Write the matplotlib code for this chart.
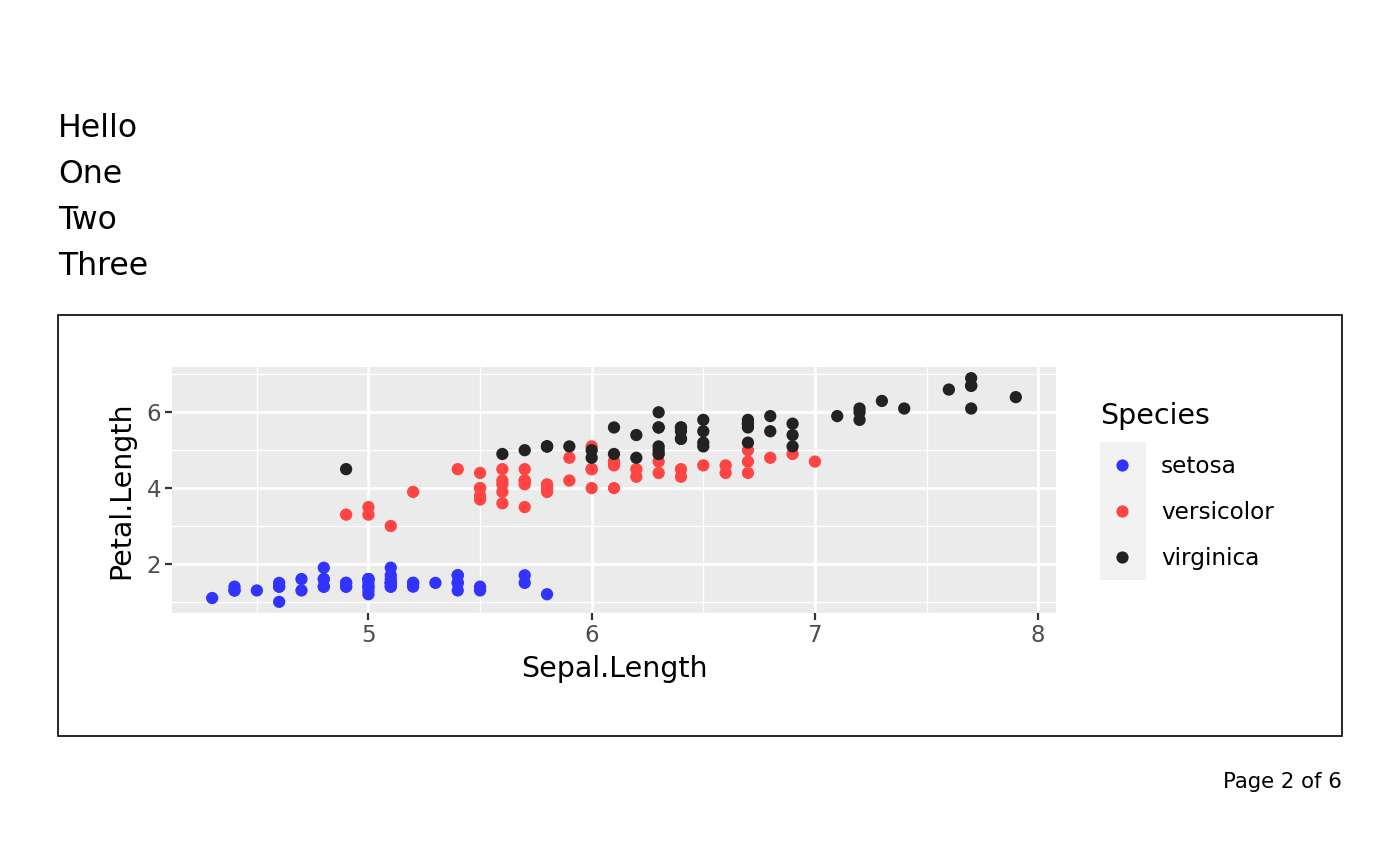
import matplotlib
matplotlib.use("Agg")
import matplotlib.pyplot as plt
from matplotlib.patches import Rectangle
from matplotlib.lines import Line2D
from matplotlib.ticker import MultipleLocator

species = ["setosa", "versicolor", "virginica"]
colors = {"setosa": "#3333FF", "versicolor": "#FF4444", "virginica": "#222222"}

setosa_sepal = [5.1,4.9,4.7,4.6,5.0,5.4,4.6,5.0,4.4,4.9,5.4,4.8,4.8,4.3,5.8,5.7,5.4,5.1,5.7,5.1,
                5.4,5.1,4.6,5.1,4.8,5.0,5.0,5.2,5.2,4.7,4.8,5.4,5.2,5.5,4.9,5.0,5.5,4.9,4.4,5.1,
                5.0,4.5,4.4,5.0,5.1,4.8,5.1,4.6,5.3,5.0]
setosa_petal = [1.4,1.4,1.3,1.5,1.4,1.7,1.4,1.5,1.4,1.5,1.5,1.6,1.4,1.1,1.2,1.5,1.3,1.4,1.7,1.5,
                1.7,1.5,1.0,1.7,1.9,1.6,1.6,1.5,1.4,1.6,1.6,1.5,1.5,1.4,1.5,1.2,1.3,1.4,1.3,1.5,
                1.3,1.3,1.3,1.6,1.9,1.4,1.6,1.4,1.5,1.4]
versicolor_sepal = [7.0,6.4,6.9,5.5,6.5,5.7,6.3,4.9,6.6,5.2,5.0,5.9,6.0,6.1,5.6,6.7,5.6,5.8,6.2,5.6,
                    5.9,6.1,6.3,6.1,6.4,6.6,6.8,6.7,6.0,5.7,5.5,5.5,5.8,6.0,5.4,6.0,6.7,6.3,5.6,5.5,
                    5.5,6.1,5.8,5.0,5.6,5.7,5.7,6.2,5.1,5.7]
versicolor_petal = [4.7,4.5,4.9,4.0,4.6,4.5,4.7,3.3,4.6,3.9,3.5,4.2,4.0,4.7,3.6,4.4,4.5,4.1,4.5,3.9,
                    4.8,4.0,4.9,4.7,4.3,4.4,4.8,5.0,4.5,3.5,3.8,3.7,3.9,5.1,4.5,4.5,4.7,4.4,4.1,4.0,
                    4.4,4.6,4.0,3.3,4.2,4.2,4.2,4.3,3.0,4.1]
virginica_sepal = [6.3,5.8,7.1,6.3,6.5,7.6,4.9,7.3,6.7,7.2,6.5,6.4,6.8,5.7,5.8,6.4,6.5,7.7,7.7,6.0,
                   6.9,5.6,7.7,6.3,6.7,7.2,6.2,6.1,6.4,7.2,7.4,7.9,6.4,6.3,6.1,7.7,6.3,6.4,6.0,6.9,
                   6.7,6.9,5.8,6.8,6.7,6.7,6.3,6.5,6.2,5.9]
virginica_petal = [6.0,5.1,5.9,5.6,5.8,6.6,4.5,6.3,5.8,6.1,5.1,5.3,5.5,5.0,5.1,5.3,5.5,6.7,6.9,5.0,
                   5.7,4.9,6.7,4.9,5.7,6.0,4.8,4.9,5.6,5.8,6.1,6.4,5.6,5.1,5.6,6.1,5.6,5.5,4.8,5.4,
                   5.6,5.1,5.1,5.9,5.7,5.2,5.0,5.2,5.4,5.1]

data = {
    "setosa": (setosa_sepal, setosa_petal),
    "versicolor": (versicolor_sepal, versicolor_petal),
    "virginica": (virginica_sepal, virginica_petal),
}
header_lines = ["Hello", "One", "Two", "Three"]
page_text = "Page 2 of 6"

W, H = 1400, 866
fig = plt.figure(figsize=(14, 8.66), dpi=100)
fig.patch.set_facecolor("white")

def fx(px):
    return px / W

def fy(py):
    return 1 - py / H

# header text
for i, t in enumerate(header_lines):
    fig.text(fx(58), fy(128.5 + 46 * i), t, fontsize=22.7, ha="left", va="center", color="black")

# bounding box
fig.add_artist(Rectangle((fx(58), fy(736)), fx(1342) - fx(58), fy(315) - fy(736),
                         transform=fig.transFigure, fill=False, edgecolor="black", linewidth=1.2))

# panel
ax = fig.add_axes([fx(172), fy(613), fx(1056) - fx(172), fy(367) - fy(613)])
ax.set_facecolor("#EBEBEB")
for s in ax.spines.values():
    s.set_visible(False)

for sp in species:
    xs, ys = data[sp]
    ax.scatter(xs, ys, s=78, color=colors[sp], edgecolors="none", zorder=3)

xmin, xmax = min(min(v[0]) for v in data.values()), max(max(v[0]) for v in data.values())
ymin, ymax = min(min(v[1]) for v in data.values()), max(max(v[1]) for v in data.values())
dx, dy = (xmax - xmin) * 0.05, (ymax - ymin) * 0.05
ax.set_xlim(xmin - dx, xmax + dx)
ax.set_ylim(ymin - dy, ymax + dy)

ax.xaxis.set_major_locator(MultipleLocator(1))
ax.xaxis.set_minor_locator(MultipleLocator(0.5))
ax.yaxis.set_major_locator(MultipleLocator(2))
ax.yaxis.set_minor_locator(MultipleLocator(1))
ax.grid(which="major", color="white", linewidth=2.0, zorder=0)
ax.grid(which="minor", color="white", linewidth=1.0, zorder=0)
ax.set_axisbelow(True)
ax.tick_params(which="major", length=5, width=1.6, color="#333333", labelsize=16.5,
               labelcolor="#4D4D4D", pad=3)
ax.tick_params(which="minor", length=0)
ax.set_xlabel("Sepal.Length", fontsize=20.5, labelpad=6)
ax.set_ylabel("Petal.Length", fontsize=20.5, labelpad=8)

# legend
fig.text(fx(1100), fy(416), "Species", fontsize=20.5, ha="left", va="center")
fig.add_artist(Rectangle((fx(1100), fy(580)), fx(1146) - fx(1100), fy(442) - fy(580),
                         transform=fig.transFigure, facecolor="#F2F2F2", edgecolor="none"))
handles = [Line2D([], [], marker="o", linestyle="none", markersize=8.8,
                  markerfacecolor=colors[sp], markeredgecolor="none") for sp in species]
leg = fig.legend(handles, species, loc="upper left",
                 bbox_to_anchor=(fx(1100), fy(455)), bbox_transform=fig.transFigure,
                 frameon=False, fontsize=16.7, handlelength=1.9, handletextpad=0.73,
                 labelspacing=1.0, borderpad=0.0, borderaxespad=0.0)

fig.text(fx(1342), fy(781.5), page_text, fontsize=15.3, ha="right", va="center")

fig.savefig("out.png", dpi=100)
